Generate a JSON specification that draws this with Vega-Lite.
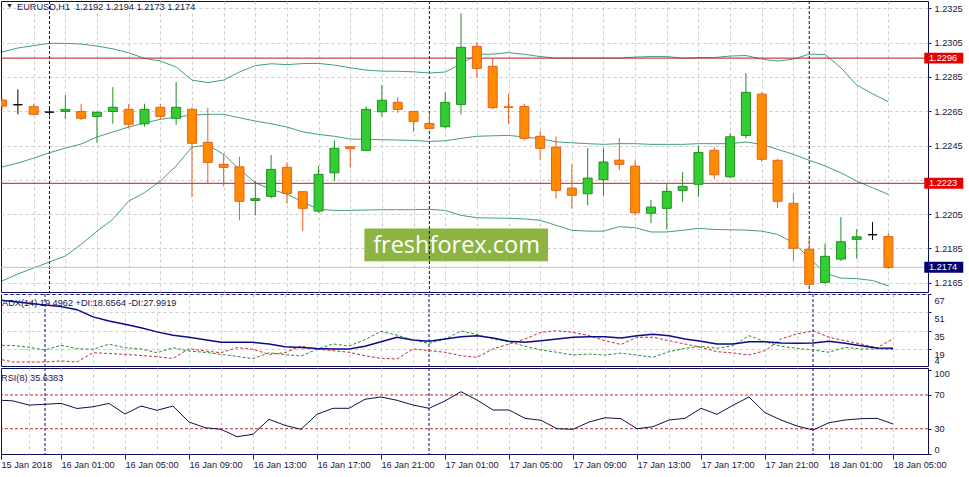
{
  "$schema": "https://vega.github.io/schema/vega-lite/v6.json",
  "padding": 0,
  "background": "#ffffff",
  "spacing": 2,
  "bounds": "flush",
  "config": {
    "view": {"stroke": "#0c0c5e", "strokeWidth": 1},
    "axis": {"labelFont": "Liberation Sans", "labelFontSize": 9.2, "labelColor": "#16163a", "tickColor": "#16163a", "gridColor": "#cccccc", "gridDash": [3, 3], "domain": false, "labelOverlap": false, "tickCount": 100},
    "text": {"font": "Liberation Sans", "fontSize": 9.2, "color": "#16164a"}
  },
  "datasets": {
    "seps": [{"t": "2018-01-16T00:00:00"}, {"t": "2018-01-17T00:00:00"}, {"t": "2018-01-18T00:00:00"}],
    "prices": [{"p": 1.2296, "k": "lvl"}, {"p": 1.2223, "k": "lvl"}, {"p": 1.2174, "k": "bid"}],
    "rsilevels": [{"v": 70}, {"v": 30}],
    "bars": [
      {"t":"2018-01-15T21:00:00","o":1.22715,"h":1.2273,"l":1.2266,"c":1.2268,"ub":1.22995,"mb":1.22325,"lb":1.2166,"adx":62.0,"pdi":22.3,"mdi":10.5,"rsi":64},
      {"t":"2018-01-15T22:00:00","o":1.22688,"h":1.22778,"l":1.22632,"c":1.22688,"ub":1.23019,"mb":1.22348,"lb":1.21701,"adx":60.5,"pdi":22.0,"mdi":7.6,"rsi":63},
      {"t":"2018-01-15T23:00:00","o":1.22677,"h":1.22694,"l":1.22631,"c":1.22632,"ub":1.23033,"mb":1.22377,"lb":1.21736,"adx":59.0,"pdi":20.5,"mdi":7.6,"rsi":58},
      {"t":"2018-01-16T00:00:00","o":1.22645,"h":1.22674,"l":1.22626,"c":1.22645,"ub":1.23046,"mb":1.22408,"lb":1.21771,"adx":57.4,"pdi":18.1,"mdi":7.6,"rsi":59},
      {"t":"2018-01-16T01:00:00","o":1.22649,"h":1.22745,"l":1.22606,"c":1.22661,"ub":1.23046,"mb":1.22435,"lb":1.21806,"adx":56.0,"pdi":22.2,"mdi":8.5,"rsi":60},
      {"t":"2018-01-16T02:00:00","o":1.22649,"h":1.22694,"l":1.22599,"c":1.22609,"ub":1.23042,"mb":1.22459,"lb":1.21874,"adx":53.3,"pdi":19.2,"mdi":7.6,"rsi":54},
      {"t":"2018-01-16T03:00:00","o":1.2262,"h":1.22649,"l":1.22466,"c":1.22644,"ub":1.2303,"mb":1.225,"lb":1.21951,"adx":47.0,"pdi":18.7,"mdi":15.7,"rsi":56},
      {"t":"2018-01-16T04:00:00","o":1.22649,"h":1.22791,"l":1.22577,"c":1.22673,"ub":1.23014,"mb":1.22529,"lb":1.2202,"adx":43.5,"pdi":23.1,"mdi":15.0,"rsi":60},
      {"t":"2018-01-16T05:00:00","o":1.22661,"h":1.22692,"l":1.2255,"c":1.22574,"ub":1.22991,"mb":1.22558,"lb":1.22126,"adx":40.6,"pdi":20.1,"mdi":14.3,"rsi":47.4},
      {"t":"2018-01-16T06:00:00","o":1.22577,"h":1.22694,"l":1.2256,"c":1.22661,"ub":1.22958,"mb":1.22581,"lb":1.22175,"adx":37.5,"pdi":19.0,"mdi":13.3,"rsi":56.9},
      {"t":"2018-01-16T07:00:00","o":1.22673,"h":1.22692,"l":1.22603,"c":1.2262,"ub":1.22943,"mb":1.22603,"lb":1.22243,"adx":33.9,"pdi":15.7,"mdi":12.2,"rsi":51.8},
      {"t":"2018-01-16T08:00:00","o":1.22609,"h":1.2282,"l":1.22571,"c":1.22673,"ub":1.22908,"mb":1.22616,"lb":1.22331,"adx":31.0,"pdi":20.1,"mdi":10.7,"rsi":56.9},
      {"t":"2018-01-16T09:00:00","o":1.22661,"h":1.22673,"l":1.22151,"c":1.22463,"ub":1.22832,"mb":1.22628,"lb":1.22441,"adx":29.2,"pdi":17.2,"mdi":19.2,"rsi":37.9},
      {"t":"2018-01-16T10:00:00","o":1.22469,"h":1.22671,"l":1.22224,"c":1.22352,"ub":1.22817,"mb":1.22632,"lb":1.22453,"adx":27.0,"pdi":16.0,"mdi":17.2,"rsi":31.2},
      {"t":"2018-01-16T11:00:00","o":1.2234,"h":1.22402,"l":1.22212,"c":1.22323,"ub":1.22832,"mb":1.22632,"lb":1.22399,"adx":24.8,"pdi":14.3,"mdi":15.7,"rsi":29.3},
      {"t":"2018-01-16T12:00:00","o":1.22326,"h":1.22385,"l":1.22014,"c":1.22125,"ub":1.22879,"mb":1.22612,"lb":1.22311,"adx":24.8,"pdi":12.5,"mdi":20.1,"rsi":20.5},
      {"t":"2018-01-16T13:00:00","o":1.2213,"h":1.22243,"l":1.22043,"c":1.2214,"ub":1.22916,"mb":1.22593,"lb":1.22233,"adx":24.8,"pdi":10.5,"mdi":18.7,"rsi":23.4},
      {"t":"2018-01-16T14:00:00","o":1.22154,"h":1.22395,"l":1.22142,"c":1.22311,"ub":1.22927,"mb":1.22577,"lb":1.22195,"adx":23.3,"pdi":15.7,"mdi":14.3,"rsi":41.1},
      {"t":"2018-01-16T15:00:00","o":1.22323,"h":1.22352,"l":1.22111,"c":1.22171,"ub":1.22922,"mb":1.22558,"lb":1.22167,"adx":21.0,"pdi":14.0,"mdi":15.7,"rsi":34.0},
      {"t":"2018-01-16T16:00:00","o":1.22181,"h":1.22185,"l":1.21951,"c":1.22084,"ub":1.22928,"mb":1.2253,"lb":1.22121,"adx":20.2,"pdi":12.8,"mdi":21.6,"rsi":29.3},
      {"t":"2018-01-16T17:00:00","o":1.22068,"h":1.2233,"l":1.22058,"c":1.22282,"ub":1.22929,"mb":1.22515,"lb":1.22078,"adx":19.3,"pdi":18.7,"mdi":18.7,"rsi":47.1},
      {"t":"2018-01-16T18:00:00","o":1.22291,"h":1.2248,"l":1.22243,"c":1.22434,"ub":1.22919,"mb":1.22504,"lb":1.22072,"adx":19.0,"pdi":23.4,"mdi":17.5,"rsi":54.2},
      {"t":"2018-01-16T19:00:00","o":1.22443,"h":1.22444,"l":1.22321,"c":1.22432,"ub":1.22904,"mb":1.22488,"lb":1.22072,"adx":19.0,"pdi":21.5,"mdi":16.1,"rsi":54.2},
      {"t":"2018-01-16T20:00:00","o":1.22422,"h":1.22679,"l":1.22418,"c":1.22661,"ub":1.2289,"mb":1.22486,"lb":1.22074,"adx":21.3,"pdi":27.0,"mdi":13.1,"rsi":64.9},
      {"t":"2018-01-16T21:00:00","o":1.22647,"h":1.22803,"l":1.22618,"c":1.22714,"ub":1.22884,"mb":1.22484,"lb":1.22076,"adx":25.3,"pdi":34.5,"mdi":10.8,"rsi":67.6},
      {"t":"2018-01-16T22:00:00","o":1.22702,"h":1.22733,"l":1.22641,"c":1.22661,"ub":1.22883,"mb":1.22482,"lb":1.22076,"adx":29.2,"pdi":31.0,"mdi":10.2,"rsi":63.7},
      {"t":"2018-01-16T23:00:00","o":1.22649,"h":1.22651,"l":1.2253,"c":1.22591,"ub":1.2288,"mb":1.2248,"lb":1.22076,"adx":26.8,"pdi":26.8,"mdi":19.0,"rsi":58.1},
      {"t":"2018-01-17T00:00:00","o":1.22579,"h":1.22632,"l":1.22548,"c":1.2255,"ub":1.22873,"mb":1.22474,"lb":1.22078,"adx":25.7,"pdi":23.9,"mdi":17.5,"rsi":54.2},
      {"t":"2018-01-17T01:00:00","o":1.2256,"h":1.22762,"l":1.2255,"c":1.22702,"ub":1.22879,"mb":1.22478,"lb":1.22072,"adx":27.7,"pdi":27.5,"mdi":16.1,"rsi":62.9},
      {"t":"2018-01-17T02:00:00","o":1.2269,"h":1.23221,"l":1.22632,"c":1.23023,"ub":1.22925,"mb":1.22492,"lb":1.22043,"adx":29.7,"pdi":34.8,"mdi":13.1,"rsi":73.9},
      {"t":"2018-01-17T03:00:00","o":1.23028,"h":1.23053,"l":1.22845,"c":1.229,"ub":1.22982,"mb":1.22504,"lb":1.22029,"adx":30.6,"pdi":31.6,"mdi":11.7,"rsi":64.0},
      {"t":"2018-01-17T04:00:00","o":1.22912,"h":1.22958,"l":1.22661,"c":1.22671,"ub":1.22983,"mb":1.22507,"lb":1.22027,"adx":28.6,"pdi":27.7,"mdi":19.0,"rsi":52.2},
      {"t":"2018-01-17T05:00:00","o":1.22676,"h":1.22752,"l":1.22577,"c":1.22673,"ub":1.22992,"mb":1.22509,"lb":1.22026,"adx":25.7,"pdi":25.3,"mdi":23.3,"rsi":52.2},
      {"t":"2018-01-17T06:00:00","o":1.22678,"h":1.22692,"l":1.2248,"c":1.22492,"ub":1.22982,"mb":1.225,"lb":1.22022,"adx":24.8,"pdi":21.3,"mdi":27.7,"rsi":42.3},
      {"t":"2018-01-17T07:00:00","o":1.22504,"h":1.22535,"l":1.22367,"c":1.22434,"ub":1.22969,"mb":1.2249,"lb":1.22014,"adx":26.2,"pdi":18.1,"mdi":33.5,"rsi":40.0},
      {"t":"2018-01-17T08:00:00","o":1.22441,"h":1.22504,"l":1.2214,"c":1.22189,"ub":1.2296,"mb":1.22472,"lb":1.21985,"adx":27.7,"pdi":16.1,"mdi":34.9,"rsi":30.0},
      {"t":"2018-01-17T09:00:00","o":1.22202,"h":1.2234,"l":1.22082,"c":1.2216,"ub":1.2296,"mb":1.22466,"lb":1.21956,"adx":29.2,"pdi":13.7,"mdi":33.5,"rsi":29.3},
      {"t":"2018-01-17T10:00:00","o":1.22169,"h":1.22435,"l":1.22101,"c":1.2226,"ub":1.2296,"mb":1.22461,"lb":1.21951,"adx":29.7,"pdi":14.6,"mdi":30.6,"rsi":37.9},
      {"t":"2018-01-17T11:00:00","o":1.22251,"h":1.22434,"l":1.22157,"c":1.22354,"ub":1.2296,"mb":1.22457,"lb":1.21951,"adx":29.7,"pdi":13.7,"mdi":26.2,"rsi":43.0},
      {"t":"2018-01-17T12:00:00","o":1.22365,"h":1.22494,"l":1.22309,"c":1.2234,"ub":1.2296,"mb":1.22461,"lb":1.21977,"adx":28.6,"pdi":15.3,"mdi":22.9,"rsi":41.9},
      {"t":"2018-01-17T13:00:00","o":1.2233,"h":1.22364,"l":1.22043,"c":1.22058,"ub":1.22966,"mb":1.22461,"lb":1.21971,"adx":30.6,"pdi":13.7,"mdi":29.2,"rsi":30.0},
      {"t":"2018-01-17T14:00:00","o":1.22055,"h":1.22132,"l":1.21998,"c":1.22091,"ub":1.22969,"mb":1.22457,"lb":1.21946,"adx":31.8,"pdi":11.7,"mdi":29.2,"rsi":32.4},
      {"t":"2018-01-17T15:00:00","o":1.22084,"h":1.22224,"l":1.21961,"c":1.22183,"ub":1.22969,"mb":1.22457,"lb":1.21946,"adx":30.6,"pdi":16.6,"mdi":26.2,"rsi":40.3},
      {"t":"2018-01-17T16:00:00","o":1.22189,"h":1.22295,"l":1.22122,"c":1.22212,"ub":1.2296,"mb":1.22457,"lb":1.21956,"adx":27.7,"pdi":19.6,"mdi":23.3,"rsi":42.3},
      {"t":"2018-01-17T17:00:00","o":1.22224,"h":1.22451,"l":1.22151,"c":1.2241,"ub":1.22963,"mb":1.22461,"lb":1.21967,"adx":25.7,"pdi":21.3,"mdi":20.4,"rsi":54.2},
      {"t":"2018-01-17T18:00:00","o":1.22422,"h":1.22441,"l":1.22253,"c":1.2228,"ub":1.22963,"mb":1.22461,"lb":1.21961,"adx":23.3,"pdi":19.6,"mdi":16.6,"rsi":47.1},
      {"t":"2018-01-17T19:00:00","o":1.22268,"h":1.22521,"l":1.22259,"c":1.22501,"ub":1.22972,"mb":1.22461,"lb":1.21959,"adx":23.3,"pdi":21.8,"mdi":15.5,"rsi":57.8},
      {"t":"2018-01-17T20:00:00","o":1.22509,"h":1.22873,"l":1.22492,"c":1.2276,"ub":1.22975,"mb":1.22471,"lb":1.21957,"adx":25.3,"pdi":30.6,"mdi":13.7,"rsi":67.6},
      {"t":"2018-01-17T21:00:00","o":1.2275,"h":1.22762,"l":1.22354,"c":1.2237,"ub":1.22954,"mb":1.22457,"lb":1.21951,"adx":25.3,"pdi":25.3,"mdi":17.5,"rsi":49.0},
      {"t":"2018-01-17T22:00:00","o":1.22364,"h":1.22373,"l":1.22086,"c":1.22125,"ub":1.22943,"mb":1.22428,"lb":1.21932,"adx":24.2,"pdi":21.3,"mdi":27.7,"rsi":40.3},
      {"t":"2018-01-17T23:00:00","o":1.22113,"h":1.22173,"l":1.21777,"c":1.21851,"ub":1.22954,"mb":1.22399,"lb":1.21883,"adx":23.9,"pdi":19.6,"mdi":32.1,"rsi":33.2},
      {"t":"2018-01-18T00:00:00","o":1.21845,"h":1.21907,"l":1.21631,"c":1.21641,"ub":1.22983,"mb":1.22364,"lb":1.21794,"adx":24.2,"pdi":18.1,"mdi":34.9,"rsi":28.5},
      {"t":"2018-01-18T01:00:00","o":1.21652,"h":1.21877,"l":1.21649,"c":1.21804,"ub":1.22981,"mb":1.22331,"lb":1.21707,"adx":25.7,"pdi":16.1,"mdi":29.2,"rsi":37.1},
      {"t":"2018-01-18T02:00:00","o":1.21788,"h":1.22033,"l":1.21777,"c":1.21889,"ub":1.22904,"mb":1.22291,"lb":1.21677,"adx":23.9,"pdi":20.4,"mdi":26.2,"rsi":40.3},
      {"t":"2018-01-18T03:00:00","o":1.21903,"h":1.21963,"l":1.2179,"c":1.21918,"ub":1.22803,"mb":1.22243,"lb":1.21674,"adx":21.8,"pdi":19.0,"mdi":23.3,"rsi":41.9},
      {"t":"2018-01-18T04:00:00","o":1.2193,"h":1.22004,"l":1.21899,"c":1.2193,"ub":1.22752,"mb":1.22204,"lb":1.21663,"adx":19.8,"pdi":19.0,"mdi":20.0,"rsi":42.3},
      {"t":"2018-01-18T05:00:00","o":1.2192,"h":1.2194,"l":1.2173,"c":1.2174,"ub":1.22705,"mb":1.22165,"lb":1.21631,"adx":19.5,"pdi":18.66,"mdi":28.0,"rsi":35.64}
    ]
  },
  "vconcat": [
    {
      "width": 927,
      "height": 291,
      "layer": [
        {
          "data": {"values": [{}]},
          "mark": {"type": "rect", "color": "#8db443"},
          "encoding": {
            "x": {"datum": {"year": 2018, "month": 1, "date": 16, "hours": 19, "minutes": 53, "seconds": 38}, "type": "temporal"},
            "x2": {"datum": {"year": 2018, "month": 1, "date": 17, "hours": 7, "minutes": 30}},
            "y": {"datum": 1.21967, "type": "quantitative"},
            "y2": {"datum": 1.21775}
          }
        },
        {
          "data": {"values": [{}]},
          "mark": {"type": "text", "font": "Open Sans", "fontSize": 23.5, "color": "#ffffff", "align": "center", "baseline": "alphabetic"},
          "encoding": {
            "x": {"datum": {"year": 2018, "month": 1, "date": 17, "hours": 1, "minutes": 43}, "type": "temporal"},
            "y": {"datum": 1.21822, "type": "quantitative"},
            "text": {"value": "freshforex.com"}
          }
        },
        {
          "data": {"name": "seps"},
          "mark": {"type": "rule", "color": "#0c0c5e", "strokeDash": [3, 2]},
          "encoding": {"x": {"field": "t", "type": "temporal"}}
        },
        {
          "data": {"name": "bars"},
          "mark": {"type": "line", "color": "#40a07a", "strokeWidth": 1, "clip": true},
          "encoding": {"x": {"field": "t", "type": "temporal"}, "y": {"field": "ub", "type": "quantitative"}}
        },
        {
          "data": {"name": "bars"},
          "mark": {"type": "line", "color": "#40a07a", "strokeWidth": 1, "clip": true},
          "encoding": {"x": {"field": "t", "type": "temporal"}, "y": {"field": "mb", "type": "quantitative"}}
        },
        {
          "data": {"name": "bars"},
          "mark": {"type": "line", "color": "#40a07a", "strokeWidth": 1, "clip": true},
          "encoding": {"x": {"field": "t", "type": "temporal"}, "y": {"field": "lb", "type": "quantitative"}}
        },
        {
          "data": {"name": "prices"},
          "mark": {"type": "rule", "strokeWidth": 1},
          "encoding": {
            "y": {"field": "p", "type": "quantitative"},
            "color": {"condition": {"test": "datum.k == 'bid'", "value": "#c3c3c3"}, "value": "#c21818"}
          }
        },
        {
          "data": {"name": "bars"},
          "mark": {"type": "rule", "strokeWidth": 1, "clip": true},
          "encoding": {
            "x": {
              "field": "t", "type": "temporal",
              "scale": {"domain": [{"year": 2018, "month": 1, "date": 15, "hours": 21, "minutes": 15}, {"year": 2018, "month": 1, "date": 18, "hours": 7, "minutes": 11, "seconds": 15}]},
              "axis": {"title": null, "labels": false, "ticks": false, "grid": true, "tickCount": 100,
                "values": [{"year":2018,"month":1,"date":15,"hours":23},{"year":2018,"month":1,"date":16,"hours":1},{"year":2018,"month":1,"date":16,"hours":3},{"year":2018,"month":1,"date":16,"hours":5},{"year":2018,"month":1,"date":16,"hours":7},{"year":2018,"month":1,"date":16,"hours":9},{"year":2018,"month":1,"date":16,"hours":11},{"year":2018,"month":1,"date":16,"hours":13},{"year":2018,"month":1,"date":16,"hours":15},{"year":2018,"month":1,"date":16,"hours":17},{"year":2018,"month":1,"date":16,"hours":19},{"year":2018,"month":1,"date":16,"hours":21},{"year":2018,"month":1,"date":16,"hours":23},{"year":2018,"month":1,"date":17,"hours":1},{"year":2018,"month":1,"date":17,"hours":3},{"year":2018,"month":1,"date":17,"hours":5},{"year":2018,"month":1,"date":17,"hours":7},{"year":2018,"month":1,"date":17,"hours":9},{"year":2018,"month":1,"date":17,"hours":11},{"year":2018,"month":1,"date":17,"hours":13},{"year":2018,"month":1,"date":17,"hours":15},{"year":2018,"month":1,"date":17,"hours":17},{"year":2018,"month":1,"date":17,"hours":19},{"year":2018,"month":1,"date":17,"hours":21},{"year":2018,"month":1,"date":17,"hours":23},{"year":2018,"month":1,"date":18,"hours":1},{"year":2018,"month":1,"date":18,"hours":3},{"year":2018,"month":1,"date":18,"hours":5}]}
            },
            "y": {
              "field": "l", "type": "quantitative",
              "scale": {"domain": [1.21596, 1.23293], "nice": false, "zero": false},
              "axis": {"title": null, "orient": "right", "format": ".4f", "grid": true, "tickSize": 3, "labelPadding": 3, "labelOverlap": false, "labelBound": false, "tickCount": 100,
                "values": [1.2165, 1.2185, 1.2205, 1.2225, 1.2245, 1.2265, 1.2285, 1.2305, 1.2325],
                "labelExpr": "abs(datum.value - 1.2225) < 0.00001 ? '' : datum.label"}
            },
            "y2": {"field": "h"},
            "color": {"condition": [{"test": "datum.c > datum.o", "value": "#1f8f1f"}, {"test": "datum.c < datum.o", "value": "#e8601c"}], "value": "#000000"}
          }
        },
        {
          "data": {"name": "bars"},
          "mark": {"type": "bar", "width": 9, "strokeWidth": 1, "clip": true},
          "encoding": {
            "x": {"field": "t", "type": "temporal"},
            "y": {"field": "o", "type": "quantitative"},
            "y2": {"field": "c"},
            "fill": {"condition": [{"test": "datum.c > datum.o", "value": "#33cc33"}, {"test": "datum.c < datum.o", "value": "#ff8c00"}], "value": "#000000"},
            "stroke": {"condition": [{"test": "datum.c > datum.o", "value": "#1f8f1f"}, {"test": "datum.c < datum.o", "value": "#e8601c"}], "value": "#000000"}
          }
        },
        {
          "data": {"values": [{}]},
          "mark": {"type": "text", "fontSize": 7, "align": "left", "baseline": "middle", "dx": 0, "dy": 5},
          "encoding": {
            "x": {"datum": {"year": 2018, "month": 1, "date": 15, "hours": 21, "minutes": 15}, "type": "temporal"},
            "y": {"datum": 1.23293, "type": "quantitative"},
            "text": {"value": "▼"}
          }
        },
        {
          "data": {"values": [{}]},
          "mark": {"type": "text", "align": "left", "baseline": "middle", "dx": 11, "dy": 6},
          "encoding": {
            "x": {"datum": {"year": 2018, "month": 1, "date": 15, "hours": 21, "minutes": 15}, "type": "temporal"},
            "y": {"datum": 1.23293, "type": "quantitative"},
            "text": {"value": "EURUSD,H1\u00a0\u00a01.2192 1.2194 1.2173 1.2174"}
          }
        },
        {
          "data": {"name": "prices"},
          "mark": {"type": "point", "shape": "M-1,-0.28H1V0.28H-1Z", "size": 1521, "filled": true, "opacity": 1, "strokeWidth": 0},
          "encoding": {
            "x": {"datum": {"year": 2018, "month": 1, "date": 18, "hours": 8, "minutes": 30}, "type": "temporal"},
            "y": {"field": "p", "type": "quantitative"},
            "color": {"condition": {"test": "datum.k == 'bid'", "value": "#000070"}, "value": "#e60000"}
          }
        },
        {
          "data": {"name": "prices"},
          "mark": {"type": "text", "align": "left", "baseline": "middle", "dx": 6, "color": "#ffffff"},
          "encoding": {
            "x": {"datum": {"year": 2018, "month": 1, "date": 18, "hours": 7, "minutes": 11, "seconds": 15}, "type": "temporal"},
            "y": {"field": "p", "type": "quantitative"},
            "text": {"field": "p", "format": ".4f"}
          }
        }
      ]
    },
    {
      "width": 927,
      "height": 72,
      "layer": [
        {
          "data": {"name": "seps"},
          "mark": {"type": "rule", "color": "#0c0c5e", "strokeDash": [3, 2]},
          "encoding": {"x": {"field": "t", "type": "temporal"}}
        },
        {
          "data": {"name": "bars"},
          "mark": {"type": "line", "color": "#2e8b2e", "strokeWidth": 1, "strokeDash": [3, 2], "clip": true},
          "encoding": {"x": {"field": "t", "type": "temporal"}, "y": {"field": "pdi", "type": "quantitative"}}
        },
        {
          "data": {"name": "bars"},
          "mark": {"type": "line", "color": "#c03030", "strokeWidth": 1, "strokeDash": [3, 2], "clip": true},
          "encoding": {"x": {"field": "t", "type": "temporal"}, "y": {"field": "mdi", "type": "quantitative"}}
        },
        {
          "data": {"name": "bars"},
          "mark": {"type": "line", "color": "#0b0b8a", "strokeWidth": 1.5, "clip": true},
          "encoding": {
            "x": {
              "field": "t", "type": "temporal",
              "scale": {"domain": [{"year": 2018, "month": 1, "date": 15, "hours": 21, "minutes": 15}, {"year": 2018, "month": 1, "date": 18, "hours": 7, "minutes": 11, "seconds": 15}]},
              "axis": {"title": null, "labels": false, "ticks": false, "grid": true, "tickCount": 100,
                "values": [{"year":2018,"month":1,"date":15,"hours":23},{"year":2018,"month":1,"date":16,"hours":1},{"year":2018,"month":1,"date":16,"hours":3},{"year":2018,"month":1,"date":16,"hours":5},{"year":2018,"month":1,"date":16,"hours":7},{"year":2018,"month":1,"date":16,"hours":9},{"year":2018,"month":1,"date":16,"hours":11},{"year":2018,"month":1,"date":16,"hours":13},{"year":2018,"month":1,"date":16,"hours":15},{"year":2018,"month":1,"date":16,"hours":17},{"year":2018,"month":1,"date":16,"hours":19},{"year":2018,"month":1,"date":16,"hours":21},{"year":2018,"month":1,"date":16,"hours":23},{"year":2018,"month":1,"date":17,"hours":1},{"year":2018,"month":1,"date":17,"hours":3},{"year":2018,"month":1,"date":17,"hours":5},{"year":2018,"month":1,"date":17,"hours":7},{"year":2018,"month":1,"date":17,"hours":9},{"year":2018,"month":1,"date":17,"hours":11},{"year":2018,"month":1,"date":17,"hours":13},{"year":2018,"month":1,"date":17,"hours":15},{"year":2018,"month":1,"date":17,"hours":17},{"year":2018,"month":1,"date":17,"hours":19},{"year":2018,"month":1,"date":17,"hours":21},{"year":2018,"month":1,"date":17,"hours":23},{"year":2018,"month":1,"date":18,"hours":1},{"year":2018,"month":1,"date":18,"hours":3},{"year":2018,"month":1,"date":18,"hours":5}]}
            },
            "y": {
              "field": "adx", "type": "quantitative",
              "scale": {"domain": [4.1, 67], "nice": false, "zero": false},
              "axis": {"title": null, "orient": "right", "format": "d", "grid": true, "tickSize": 3, "labelPadding": 3, "labelOffset": 2, "labelOverlap": false, "labelBound": false, "tickCount": 100,
                "values": [67, 51, 35, 19, 6.5],
                "labelExpr": "datum.value < 10 ? '4' : datum.label",
                "labelBaseline": {"condition": {"test": "datum.value < 10", "value": "bottom"}, "value": "top"},
                "gridOpacity": {"condition": {"test": "datum.value < 10", "value": 0}, "value": 1},
                "tickOpacity": {"condition": {"test": "datum.value < 10", "value": 0}, "value": 1}}
            }
          }
        },
        {
          "data": {"values": [{}]},
          "mark": {"type": "text", "align": "left", "baseline": "middle", "dx": 1, "dy": 9},
          "encoding": {
            "x": {"datum": {"year": 2018, "month": 1, "date": 15, "hours": 21, "minutes": 15}, "type": "temporal"},
            "y": {"datum": 67, "type": "quantitative"},
            "text": {"value": "ADX(14) 19.4962 +DI:18.6564 -DI:27.9919"}
          }
        }
      ]
    },
    {
      "width": 927,
      "height": 86,
      "layer": [
        {
          "data": {"name": "seps"},
          "mark": {"type": "rule", "color": "#0c0c5e", "strokeDash": [3, 2]},
          "encoding": {"x": {"field": "t", "type": "temporal"}}
        },
        {
          "data": {"name": "rsilevels"},
          "mark": {"type": "rule", "color": "#c03030", "strokeWidth": 1, "strokeDash": [3, 2]},
          "encoding": {"y": {"field": "v", "type": "quantitative"}}
        },
        {
          "data": {"name": "bars"},
          "mark": {"type": "line", "color": "#10104a", "strokeWidth": 1, "clip": true},
          "encoding": {
            "x": {
              "field": "t", "type": "temporal",
              "scale": {"domain": [{"year": 2018, "month": 1, "date": 15, "hours": 21, "minutes": 15}, {"year": 2018, "month": 1, "date": 18, "hours": 7, "minutes": 11, "seconds": 15}]},
              "axis": {"title": null, "orient": "bottom", "grid": true, "tickSize": 5, "labelPadding": 1, "labelAlign": "left", "labelFlush": false, "labelBaseline": "top", "labelOverlap": false, "labelBound": false, "tickCount": 100,
                "labelExpr": "minutes(datum.value) == 15 ? '15 Jan 2018' : (hours(datum.value) % 4 == 1 ? timeFormat(datum.value, '%d %b %H:%M') : '')",
                "tickOpacity": {"condition": {"test": "hours(datum.value) % 4 == 1", "value": 1}, "value": 0},
                "gridOpacity": {"condition": {"test": "minutes(datum.value) == 15", "value": 0}, "value": 1},
                "values": [{"year":2018,"month":1,"date":15,"hours":21,"minutes":15},{"year":2018,"month":1,"date":15,"hours":23},{"year":2018,"month":1,"date":16,"hours":1},{"year":2018,"month":1,"date":16,"hours":3},{"year":2018,"month":1,"date":16,"hours":5},{"year":2018,"month":1,"date":16,"hours":7},{"year":2018,"month":1,"date":16,"hours":9},{"year":2018,"month":1,"date":16,"hours":11},{"year":2018,"month":1,"date":16,"hours":13},{"year":2018,"month":1,"date":16,"hours":15},{"year":2018,"month":1,"date":16,"hours":17},{"year":2018,"month":1,"date":16,"hours":19},{"year":2018,"month":1,"date":16,"hours":21},{"year":2018,"month":1,"date":16,"hours":23},{"year":2018,"month":1,"date":17,"hours":1},{"year":2018,"month":1,"date":17,"hours":3},{"year":2018,"month":1,"date":17,"hours":5},{"year":2018,"month":1,"date":17,"hours":7},{"year":2018,"month":1,"date":17,"hours":9},{"year":2018,"month":1,"date":17,"hours":11},{"year":2018,"month":1,"date":17,"hours":13},{"year":2018,"month":1,"date":17,"hours":15},{"year":2018,"month":1,"date":17,"hours":17},{"year":2018,"month":1,"date":17,"hours":19},{"year":2018,"month":1,"date":17,"hours":21},{"year":2018,"month":1,"date":17,"hours":23},{"year":2018,"month":1,"date":18,"hours":1},{"year":2018,"month":1,"date":18,"hours":3},{"year":2018,"month":1,"date":18,"hours":5}]}
            },
            "y": {
              "field": "rsi", "type": "quantitative",
              "scale": {"domain": [0, 102], "nice": false, "zero": false},
              "axis": {"title": null, "orient": "right", "format": "d", "grid": false, "tickSize": 3, "labelPadding": 3, "labelOverlap": false, "labelBound": false, "tickCount": 100,
                "values": [0, 30, 70, 100],
                "labelBaseline": {"condition": [{"test": "datum.value == 100", "value": "top"}, {"test": "datum.value == 0", "value": "bottom"}], "value": "middle"}}
            }
          }
        },
        {
          "data": {"values": [{}]},
          "mark": {"type": "text", "align": "left", "baseline": "middle", "dx": 0, "dy": 9.5},
          "encoding": {
            "x": {"datum": {"year": 2018, "month": 1, "date": 15, "hours": 21, "minutes": 15}, "type": "temporal"},
            "y": {"datum": 102, "type": "quantitative"},
            "text": {"value": "RSI(8) 35.6383"}
          }
        }
      ]
    }
  ]
}
